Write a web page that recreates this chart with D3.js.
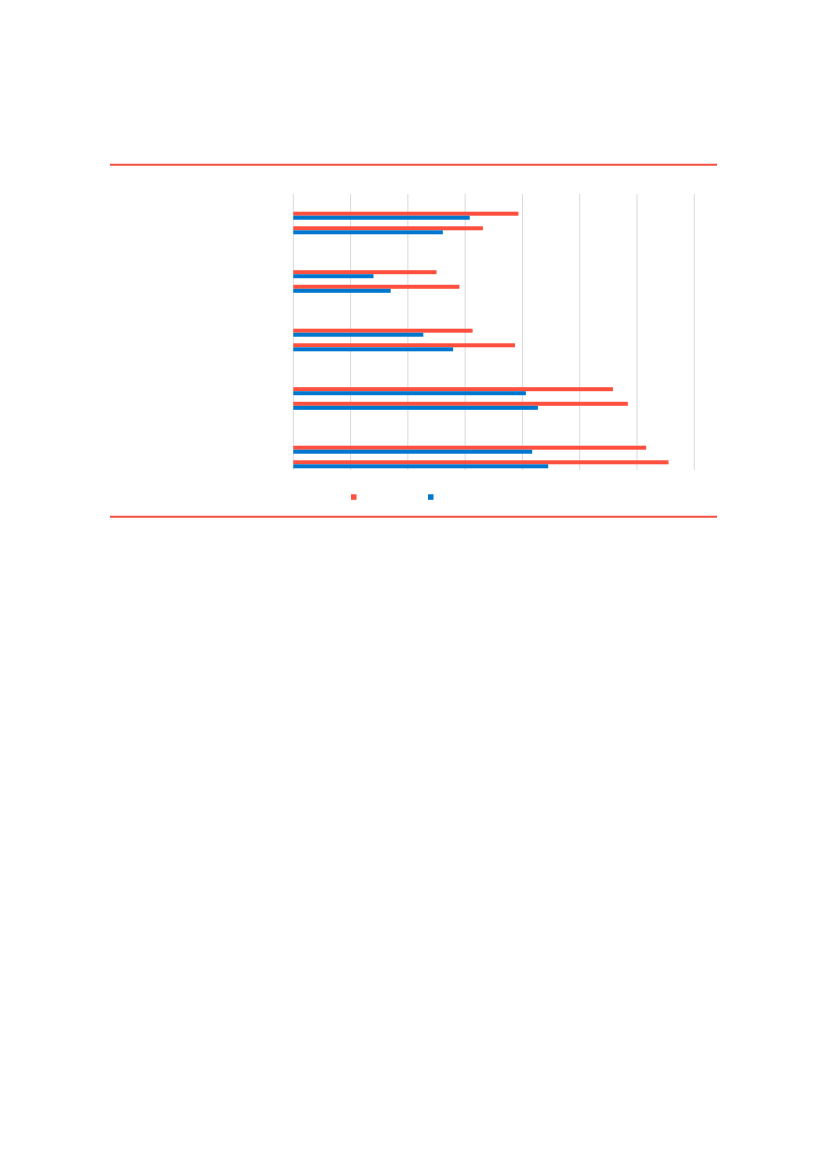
<!DOCTYPE html>
<html>
<head>
<meta charset="utf-8">
<script src="https://cdn.jsdelivr.net/npm/d3@7"></script>
<style>
  body { margin: 0; background: #fff; }
  svg { display: block; }
</style>
</head>
<body>
<svg id="chart" width="827" height="1169"></svg>
<script>
// five groups, two rows each, two series per row (no labels are printed in the source)
var groups = ["G1", "G2", "G3", "G4", "G5"];
var rows = ["R1", "R2"];
var seriesNames = ["Series 1", "Series 2"];
var redValues = [39.3, 33.1, 25.0, 29.0, 31.3, 38.7, 55.8, 58.4, 61.6, 65.5];
var blueValues = [30.8, 26.1, 14.0, 17.0, 22.7, 27.9, 40.6, 42.7, 41.7, 44.5];
var xTicks = [0, 10, 20, 30, 40, 50, 60, 70];

var colors = ["#ff4f3f", "#0077cf"];

var svg = d3.select("#chart");

// frame rules above and below the chart
svg.append("line")
    .attr("x1", 110).attr("x2", 717)
    .attr("y1", 164.7).attr("y2", 164.7)
    .attr("stroke", "#f4503f")
    .attr("stroke-width", 2);
svg.append("line")
    .attr("x1", 110).attr("x2", 717)
    .attr("y1", 516.7).attr("y2", 516.7)
    .attr("stroke", "#f4503f")
    .attr("stroke-width", 2);

var x = d3.scaleLinear().domain([0, 70]).range([293.3, 694.3]);

var y = d3.scaleBand().domain(groups).range([193.75, 486.25]);
var yRow = d3.scaleBand().domain(rows).range([0, y.bandwidth()])
    .paddingInner(0.45).paddingOuter(1.23);
var ySeries = d3.scaleBand().domain(seriesNames).range([0, yRow.bandwidth()]);

// vertical gridlines
svg.append("g").selectAll("line")
    .data(xTicks)
    .join("line")
    .attr("x1", d => x(d)).attr("x2", d => x(d))
    .attr("y1", 194).attr("y2", 470)
    .attr("stroke", "#d9d9d9")
    .attr("stroke-width", 1);

var data = [];
groups.forEach((g, gi) => {
    rows.forEach((r, ri) => {
        var i = gi * rows.length + ri;
        data.push({ group: g, row: r, series: seriesNames[0], value: redValues[i] });
        data.push({ group: g, row: r, series: seriesNames[1], value: blueValues[i] });
    });
});

svg.append("g").selectAll("rect")
    .data(data)
    .join("rect")
    .attr("x", x(0))
    .attr("y", d => y(d.group) + yRow(d.row) + ySeries(d.series))
    .attr("width", d => x(d.value) - x(0))
    .attr("height", ySeries.bandwidth())
    .attr("fill", d => colors[seriesNames.indexOf(d.series)]);

// legend markers
var legendX = [351, 428];
svg.append("g").selectAll("rect")
    .data(seriesNames)
    .join("rect")
    .attr("x", (d, i) => legendX[i])
    .attr("y", 494.3)
    .attr("width", 5.5)
    .attr("height", 5.5)
    .attr("fill", (d, i) => colors[i]);
</script>
</body>
</html>
